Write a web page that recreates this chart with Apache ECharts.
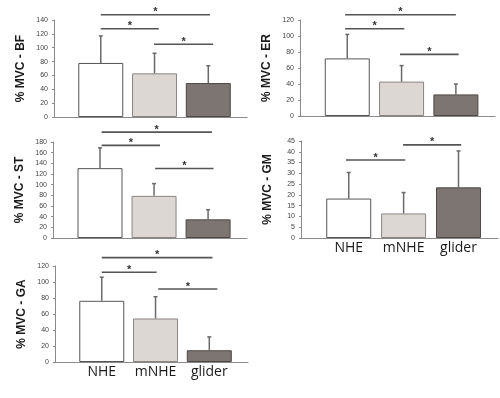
<!DOCTYPE html>
<html>
<head>
<meta charset="utf-8">
<script src="https://cdn.jsdelivr.net/npm/echarts@6/dist/echarts.min.js"></script>
<style>html,body{margin:0;padding:0;background:#fff}#c{width:500px;height:398px}</style>
</head>
<body>
<div id="c"></div>
<script>
// ---- data ----
const categories = ['NHE', 'mNHE', 'glider'];

const bfMean = [78, 63, 49];
const bfSD = [39, 29, 25];
const bfSig = [[0, 2.03, 147.6], [0, 1.08, 127.4], [0.99, 2.09, 104.9]];

const erMean = [72, 43, 27];
const erSD = [30, 20, 13];
const erSig = [[-0.04, 2.0, 126.6], [-0.04, 1.05, 109], [0.97, 2.05, 77]];

const stMean = [131, 79, 35];
const stSD = [38, 23, 18];
const stSig = [[0.03, 2.07, 198.5], [0.03, 1.11, 173.7], [1.02, 2.1, 130.4]];

const gmMean = [18.3, 11.4, 23.5];
const gmSD = [12.1, 9.7, 16.9];
const gmSig = [[-0.05, 1.03, 36.2], [0.99, 2.05, 43.2]];

const gaMean = [76.5, 54.4, 14.7];
const gaSD = [29.5, 27.2, 16.7];
const gaSig = [[0, 2.06, 130.5], [0, 1.02, 112.2], [1.05, 2.15, 91.2]];

const yTitles = ['% MVC - BF', '% MVC - ER', '% MVC - ST', '% MVC - GM', '% MVC - GA'];
const yMax = [140, 120, 180, 45, 120];
const yStep = [20, 20, 20, 5, 20];

// ---- styles / layout ----
const fills = ['#ffffff', '#dcd7d3', '#7c7571'];
const borders = ['#555555', '#8a8583', '#4d4846'];
const grids = [
  {left: 54, top: 20, width: 193, height: 97},
  {left: 300, top: 20, width: 195, height: 96},
  {left: 53, top: 142, width: 194, height: 96},
  {left: 301, top: 141, width: 197, height: 97},
  {left: 55, top: 266, width: 193, height: 96}
];
const showX = [false, false, false, true, true];
const panels = [
  [bfMean, bfSD, bfSig], [erMean, erSD, erSig], [stMean, stSD, stSig],
  [gmMean, gmSD, gmSig], [gaMean, gaSD, gaSig]
];

const xAxes = [], yAxes = [], series = [];
panels.forEach(([mean, sd, sig], i) => {
  xAxes.push({
    gridIndex: i, type: 'value', min: -0.87, max: 2.72,
    axisLine: {show: true, onZero: false, lineStyle: {color: '#8a8a8a', width: 1}},
    axisTick: {show: false}, splitLine: {show: false},
    axisLabel: {
      show: showX[i], customValues: [0, 1, 2], margin: 3,
      formatter: v => categories[Math.round(v)],
      fontFamily: 'Open Sans', fontSize: 14, color: '#1a1a1a'
    }
  });
  yAxes.push({
    gridIndex: i, type: 'value', min: 0, max: yMax[i], interval: yStep[i],
    name: yTitles[i], nameLocation: 'middle', nameRotate: 90, nameGap: 27,
    nameTextStyle: {fontFamily: 'Liberation Sans', fontWeight: 'bold', fontSize: 12, color: '#1a1a1a'},
    axisLine: {show: true, onZero: false, lineStyle: {color: '#8a8a8a', width: 1}},
    axisTick: {show: true, length: 2, lineStyle: {color: '#8a8a8a'}},
    splitLine: {show: false},
    axisLabel: {fontFamily: 'Liberation Sans', fontSize: 7, color: '#444', margin: 6}
  });
  series.push({
    type: 'bar', xAxisIndex: i, yAxisIndex: i, barWidth: 45, z: 2,
    data: mean.map((v, k) => ({
      value: [k, v],
      itemStyle: {color: fills[k], borderColor: borders[k], borderWidth: 1}
    }))
  });
  series.push({
    type: 'custom', xAxisIndex: i, yAxisIndex: i, z: 3, clip: false,
    encode: {x: 0, y: [1, 2]},
    data: mean.map((v, k) => [k, v, v + sd[k]]),
    renderItem: (params, api) => {
      const p0 = api.coord([api.value(0), api.value(1)]);
      const p1 = api.coord([api.value(0), api.value(2)]);
      const st = {stroke: '#6a6a6a', lineWidth: 1.5};
      return {type: 'group', children: [
        {type: 'line', shape: {x1: p0[0], y1: p0[1], x2: p1[0], y2: p1[1]}, style: st},
        {type: 'line', shape: {x1: p1[0] - 2, y1: p1[1], x2: p1[0] + 2, y2: p1[1]}, style: st}
      ]};
    }
  });
  series.push({
    type: 'custom', xAxisIndex: i, yAxisIndex: i, z: 4, clip: false,
    encode: {x: [0, 1], y: 2},
    data: sig,
    renderItem: (params, api) => {
      const a = api.coord([api.value(0), api.value(2)]);
      const b = api.coord([api.value(1), api.value(2)]);
      return {type: 'group', children: [
        {type: 'line', shape: {x1: a[0], y1: a[1], x2: b[0], y2: a[1]}, style: {stroke: '#555', lineWidth: 1.6}},
        {type: 'text', x: (a[0] + b[0]) / 2, y: a[1] + 3,
         style: {text: '*', fill: '#333', font: 'bold 11px Liberation Sans', align: 'center', verticalAlign: 'bottom'}}
      ]};
    }
  });
});

const chart = echarts.init(document.getElementById('c'), null, {renderer: 'canvas'});
chart.setOption({
  animation: false,
  backgroundColor: '#ffffff',
  grid: grids,
  xAxis: xAxes,
  yAxis: yAxes,
  series: series
});
</script>
</body>
</html>
